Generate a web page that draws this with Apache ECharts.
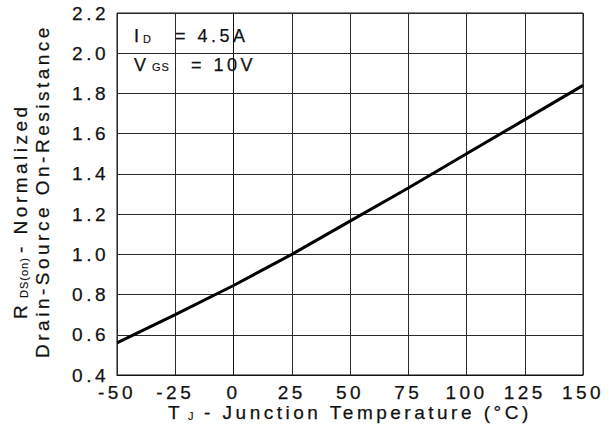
<!DOCTYPE html>
<html>
<head>
<meta charset="utf-8">
<script src="https://cdn.jsdelivr.net/npm/echarts@6/dist/echarts.min.js"></script>
<style>
  html, body { margin: 0; padding: 0; background: #fff; }
  #chart { width: 609px; height: 428px; }
  /* datasheet-style wide tracking for the labels; tighter for the small subscripts */
  #chart svg text { letter-spacing: 3.5px; }
  #chart svg text[style*="11px"] { letter-spacing: 1px; }
</style>
</head>
<body>
<div id="chart"></div>
<script>
// Junction temperature (°C) and normalized on-resistance
const temperatures = [-50, -25, 0, 25, 50, 75, 100, 125, 150];
const rdsNormalized = [0.56, 0.70, 0.845, 1.0, 1.165, 1.33, 1.50, 1.67, 1.84];

// Axis ranges / tick steps
const xTicks = { min: -50, max: 150, step: 25 };
const yTicks = { min: 0.4, max: 2.2, step: 0.2 };

// Test condition and axis title pieces (main text + subscript)
const condCurrent = ['I', 'D', '= 4.5A'];
const condVoltage = ['V', 'GS', '= 10V'];
const xTitle = ['T', 'J', '- Junction Temperature (°C)'];
const yTitle1 = ['R', 'DS(on)', '- Normalized'];
const yTitle2 = 'Drain-Source On-Resistance';

const FONT = '"Liberation Sans", Arial, sans-serif';
const INK = '#111';
const GRID = '#2a2a2a';
const WEIGHT = 0.25;   // thin outline to give the glyphs a slightly heavier print look

function txt(x, y, text, size, extra) {
  return Object.assign({
    type: 'text', x: x, y: y,
    style: {
      text: text, fontFamily: FONT, fontSize: size, fill: INK,
      stroke: INK, lineWidth: size > 12 ? WEIGHT : 0.15,
      align: 'left', verticalAlign: 'middle'
    }
  }, extra || {});
}
function rot(x, y, text, size, align) {
  const el = txt(x, y, text, size, { rotation: Math.PI / 2 });
  el.style.align = align || 'left';
  return el;
}

const chart = echarts.init(document.getElementById('chart'), null, { renderer: 'svg' });

const tickLabel = {
  color: INK, fontFamily: FONT, fontSize: 19,
  textBorderColor: INK, textBorderWidth: WEIGHT
};

chart.setOption({
  backgroundColor: '#fff',
  animation: false,
  grid: {
    left: 117, right: 26, top: 13, bottom: 53,
    show: true, borderColor: INK, borderWidth: 1, backgroundColor: 'transparent'
  },
  xAxis: {
    type: 'value',
    min: xTicks.min, max: xTicks.max, interval: xTicks.step,
    axisLine: { show: true, lineStyle: { color: INK, width: 1 } },
    axisTick: { show: false },
    splitLine: { show: true, lineStyle: { color: GRID, width: 1 } },
    axisLabel: Object.assign({ margin: 8 }, tickLabel)
  },
  yAxis: {
    type: 'value',
    min: yTicks.min, max: yTicks.max, interval: yTicks.step,
    axisLine: { show: true, lineStyle: { color: INK, width: 1 } },
    axisTick: { show: false },
    splitLine: { show: true, lineStyle: { color: GRID, width: 1 } },
    axisLabel: Object.assign({ margin: 8, formatter: v => v.toFixed(1) }, tickLabel)
  },
  series: [{
    type: 'line',
    data: temperatures.map((t, i) => [t, rdsNormalized[i]]),
    showSymbol: false,
    lineStyle: { color: '#000', width: 3 },
    z: 5
  }],
  graphic: [
    // I_D = 4.5A
    txt(134, 35.5, condCurrent[0], 18),
    txt(143, 38.5, condCurrent[1], 11),
    txt(175, 35.5, condCurrent[2], 18),
    // V_GS = 10V
    txt(134, 64.5, condVoltage[0], 18),
    txt(152, 67, condVoltage[1], 11),
    txt(191, 64.5, condVoltage[2], 18),
    // T_J - Junction Temperature (°C)
    txt(168, 412, xTitle[0], 19),
    txt(188, 416, xTitle[1], 11),
    txt(204, 412, xTitle[2], 19),
    // R_DS(on) - Normalized (rotated, reads bottom to top)
    rot(20, 319, yTitle1[0], 19),
    rot(24, 298, yTitle1[1], 11),
    rot(20, 253, yTitle1[2], 19),
    // Drain-Source On-Resistance
    rot(42, 191, yTitle2, 19, 'center')
  ]
});
</script>
</body>
</html>
